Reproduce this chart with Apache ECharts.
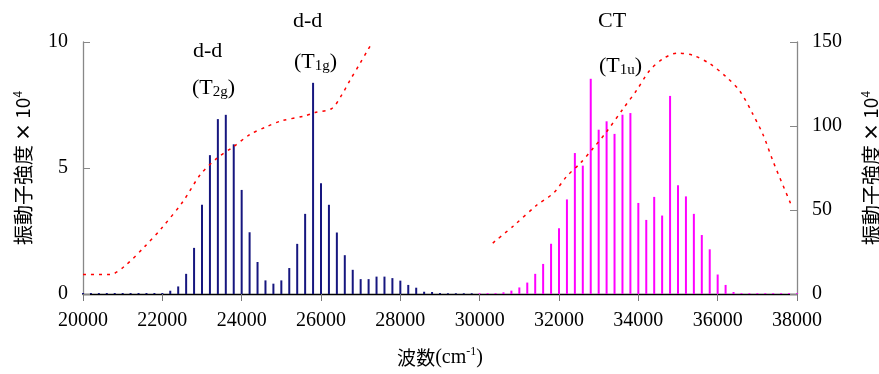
<!DOCTYPE html>
<html><head><meta charset="utf-8">
<script src="https://cdn.jsdelivr.net/npm/echarts@6/dist/echarts.min.js"></script>
<style>html,body{margin:0;padding:0;background:#fff}#c{width:879px;height:374px}</style>
</head><body><div id="c"></div>
<script>
// d-d transitions (left axis, ×10^4)
const ddWavenumbers = [20000,20200,20400,20600,20800,21000,21200,21400,21600,21800,22000,
  22200,22400,22600,22800,23000,23200,23400,23600,23800,24000,24200,24400,24600,24800,25000,
  25200,25400,25600,25800,26000,26200,26400,26600,26800,27000,27200,27400,27600,27800,28000,
  28200,28400,28600,28800,29000,29200,29400,29600,29800];
const ddValues = [0.04,0.04,0.04,0.04,0.04,0.04,0.04,0.04,0.04,0.04,0.04,
  0.13,0.30,0.80,1.83,3.54,5.51,6.94,7.11,5.94,4.13,2.45,1.27,0.54,0.41,0.54,
  1.03,1.99,3.18,8.38,4.39,3.54,2.44,1.54,0.96,0.59,0.59,0.69,0.69,0.63,0.53,
  0.36,0.25,0.09,0.08,0.04,0.03,0.03,0.03,0.03];
// CT transitions (right axis, ×10^4)
const ctWavenumbers = [30000,30200,30400,30600,30800,31000,31200,31400,31600,31800,32000,
  32200,32400,32600,32800,33000,33200,33400,33600,33800,34000,34200,34400,34600,34800,35000,
  35200,35400,35600,35800,36000,36200,36400,36600,36800,37000,37200,37400,37600,37800,38000];
const ctValues = [0.5,0.5,0.5,1.0,2.0,3.9,6.8,12.0,17.9,29.9,39.2,
  56.3,83.9,76.4,128.1,97.8,102.8,95.3,106.7,107.7,54.2,44.1,57.8,46.7,117.9,64.7,
  58.1,47.7,35.1,26.6,11.6,5.4,1.2,0.5,0.5,0.5,0.5,0.5,0.5,0.5,0.5];
// Experimental spectrum (dotted red), two segments
const specX1 = [20000,20680,21060,21560,21980,22530,22950,23370,23790,24210,24630,25000,25600,25850,26270,26520,26730,26980,27190,27300];
const specY1 = [0.77,0.77,1.12,1.89,2.61,3.69,4.72,5.38,5.84,6.33,6.64,6.87,7.07,7.2,7.36,7.89,8.48,9.14,9.71,10.0];
const specX2 = [30330,30850,31450,31860,32190,32530,32860,33200,33620,33960,34290,34630,34980,35380,35800,36220,36560,36880,37150,37400,37850];
const specY2 = [2.02,2.7,3.54,4.0,4.66,5.18,5.78,6.44,7.36,8.09,8.88,9.34,9.56,9.47,9.14,8.61,8.05,7.16,6.3,5.25,3.55];
const xTicks = [20000,22000,24000,26000,28000,30000,32000,34000,36000,38000];

const serif = '"Liberation Serif","Times New Roman",serif';
const cjk = '"Noto Sans CJK JP","Noto Sans CJK SC",sans-serif';

const chart = echarts.init(document.getElementById('c'), null, {renderer:'canvas'});
const zip = (a,b)=>a.map((v,i)=>[v,b[i]]);
const specData = zip(specX1,specY1).concat([[28800,null]]).concat(zip(specX2,specY2));

const yName = '{c|振動子強度}{x| ×}{n| 10}{s|4}';
const yRich = {
  c:{fontFamily:cjk,fontSize:20,color:'#000'},
  x:{fontFamily:cjk,fontSize:18,fontWeight:'bold',color:'#000'},
  n:{fontFamily:cjk,fontSize:19,color:'#000'},
  s:{fontFamily:cjk,fontSize:12,color:'#000',padding:[0,0,12,0]}
};
const sub = {p:{fontFamily:serif,fontSize:22,fill:'#000'},s:{fontFamily:serif,fontSize:15,fill:'#000',padding:[8,0,0,0]}};

chart.setOption({
  animation:false,
  grid:{left:83,right:82,top:42,bottom:80,outerBoundsMode:'none',containLabel:false},
  xAxis:{type:'value',min:20000,max:38000,interval:2000,
    axisLine:{lineStyle:{color:'#000',width:1.3}},
    axisTick:{inside:false,length:7,lineStyle:{color:'#777'}},
    axisLabel:{fontFamily:serif,fontSize:20,color:'#000',margin:17,
      formatter:v=>xTicks.includes(v)?String(v):''},
    splitLine:{show:false},
    name:'{c|波数}{p|(cm}{s|-1}{p|)}',nameLocation:'middle',nameGap:52,
    nameTextStyle:{rich:{c:{fontFamily:cjk,fontSize:19,color:'#000'},p:{fontFamily:serif,fontSize:20,color:'#000'},s:{fontFamily:serif,fontSize:12,color:'#000',padding:[0,0,12,0]}}}
  },
  yAxis:[
    {type:'value',min:0,max:10,interval:5,position:'left',
      axisLine:{show:true,lineStyle:{color:'#888',width:1.3}},
      axisTick:{show:true,inside:true,length:7,lineStyle:{color:'#888'}},
      axisLabel:{fontFamily:serif,fontSize:20,color:'#000',margin:15},
      splitLine:{show:false},
      name:yName,nameLocation:'middle',nameGap:48,nameRotate:90,
      nameTextStyle:{rich:yRich}
    },
    {type:'value',min:0,max:150,interval:50,position:'right',
      axisLine:{show:true,lineStyle:{color:'#888',width:1.3}},
      axisTick:{show:true,inside:true,length:7,lineStyle:{color:'#888'}},
      axisLabel:{fontFamily:serif,fontSize:20,color:'#000',margin:15},
      splitLine:{show:false},
      name:yName,nameLocation:'middle',nameGap:62,nameRotate:90,
      nameTextStyle:{rich:yRich}
    }
  ],
  series:[
    {type:'bar',name:'d-d',yAxisIndex:0,barWidth:2,data:zip(ddWavenumbers,ddValues),
      itemStyle:{color:'#16167f'}},
    {type:'bar',name:'CT',yAxisIndex:1,barWidth:2,barGap:'-100%',data:zip(ctWavenumbers,ctValues),
      itemStyle:{color:'#ff00ff'}},
    {type:'line',name:'spectrum',yAxisIndex:0,data:specData,showSymbol:false,smooth:0.3,connectNulls:false,
      lineStyle:{color:'#ff0000',width:1.5,type:[3,5]},z:5}
  ],
  graphic:[
    {type:'text',left:193,top:40,style:{text:'d-d',font:'22px '+serif,fill:'#000'}},
    {type:'text',left:192,top:77,style:{text:'{p|(T}{s|2g}{p|)}',rich:sub}},
    {type:'text',left:293,top:10,style:{text:'d-d',font:'22px '+serif,fill:'#000'}},
    {type:'text',left:294,top:51,style:{text:'{p|(T}{s|1g}{p|)}',rich:sub}},
    {type:'text',left:598,top:10,style:{text:'CT',font:'22px '+serif,fill:'#000'}},
    {type:'text',left:599,top:55,style:{text:'{p|(T}{s|1u}{p|)}',rich:sub}}
  ]
});
</script></body></html>
